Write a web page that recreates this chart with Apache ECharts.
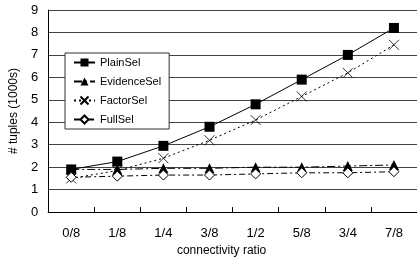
<!DOCTYPE html>
<html>
<head>
<meta charset="utf-8">
<script src="https://cdn.jsdelivr.net/npm/echarts@6/dist/echarts.min.js"></script>
<style>
  html, body { margin: 0; padding: 0; background: #fff; }
  #chart { width: 417px; height: 262px; }
</style>
</head>
<body>
<div id="chart"></div>
<script>
const categories = ['0/8', '1/8', '1/4', '3/8', '1/2', '5/8', '3/4', '7/8']
const plainSel = [1.9, 2.25, 2.95, 3.8, 4.8, 5.9, 7.0, 8.2]
const evidenceSel = [1.9, 1.9, 1.95, 1.95, 2.0, 2.0, 2.05, 2.1]
const factorSel = [1.5, 1.85, 2.4, 3.2, 4.1, 5.15, 6.2, 7.45]
const fullSel = [1.55, 1.6, 1.65, 1.65, 1.7, 1.75, 1.75, 1.8]

const font = 'Liberation Sans, Arial, sans-serif'
const crossPath = 'path://M0,0L10,10M10,0L0,10'

const chart = echarts.init(document.getElementById('chart'), null, { renderer: 'canvas' })

const lineSeries = (name, data, symbol, size, lineType, itemStyle) => ({
  name,
  type: 'line',
  data,
  symbol,
  symbolSize: size,
  showSymbol: true,
  animation: false,
  lineStyle: { color: '#000', width: 1, type: lineType },
  itemStyle
})

chart.setOption({
  animation: false,
  grid: { left: 44, top: 10, width: 374, height: 211 },
  legend: {
    orient: 'vertical',
    left: 65,
    top: 53,
    padding: [4, 8, 4, 8],
    itemWidth: 21,
    itemHeight: 10,
    itemGap: 8,
    backgroundColor: '#fff',
    borderColor: '#333',
    borderWidth: 1,
    textStyle: { fontFamily: font, fontSize: 11, color: '#000' },
    data: ['PlainSel', 'EvidenceSel', 'FactorSel', 'FullSel']
  },
  xAxis: {
    type: 'category',
    data: categories,
    boundaryGap: true,
    name: 'connectivity ratio',
    nameLocation: 'middle',
    nameGap: 31,
    nameTextStyle: { fontFamily: font, fontSize: 12, color: '#000', padding: [0, 22, 0, 0] },
    axisLine: { lineStyle: { color: '#000', width: 1 } },
    axisTick: { show: true, inside: true, length: 5, lineStyle: { color: '#000' } },
    axisLabel: { fontFamily: font, fontSize: 13, color: '#000', margin: 15 }
  },
  yAxis: {
    type: 'value',
    min: 0,
    max: 9,
    interval: 1,
    name: '# tuples (1000s)',
    nameLocation: 'middle',
    nameGap: 23,
    nameTextStyle: { fontFamily: font, fontSize: 12, color: '#000' },
    axisLine: { show: true, lineStyle: { color: '#000', width: 1 } },
    axisTick: { show: false },
    axisLabel: { fontFamily: font, fontSize: 13, color: '#000', margin: 10 },
    splitLine: { lineStyle: { color: '#444', width: 1 } }
  },
  series: [
    lineSeries('PlainSel', plainSel, 'rect', 10, 'solid', { color: '#000' }),
    lineSeries('EvidenceSel', evidenceSel, 'triangle', 10, [8, 3, 2, 3], { color: '#000' }),
    lineSeries('FactorSel', factorSel, crossPath, 10, [2, 3], { color: 'transparent', borderColor: '#000', borderWidth: 0.8 }),
    lineSeries('FullSel', fullSel, 'diamond', 10, [6, 3, 2, 3], { color: '#fff', borderColor: '#000', borderWidth: 1 })
  ]
})
</script>
</body>
</html>
